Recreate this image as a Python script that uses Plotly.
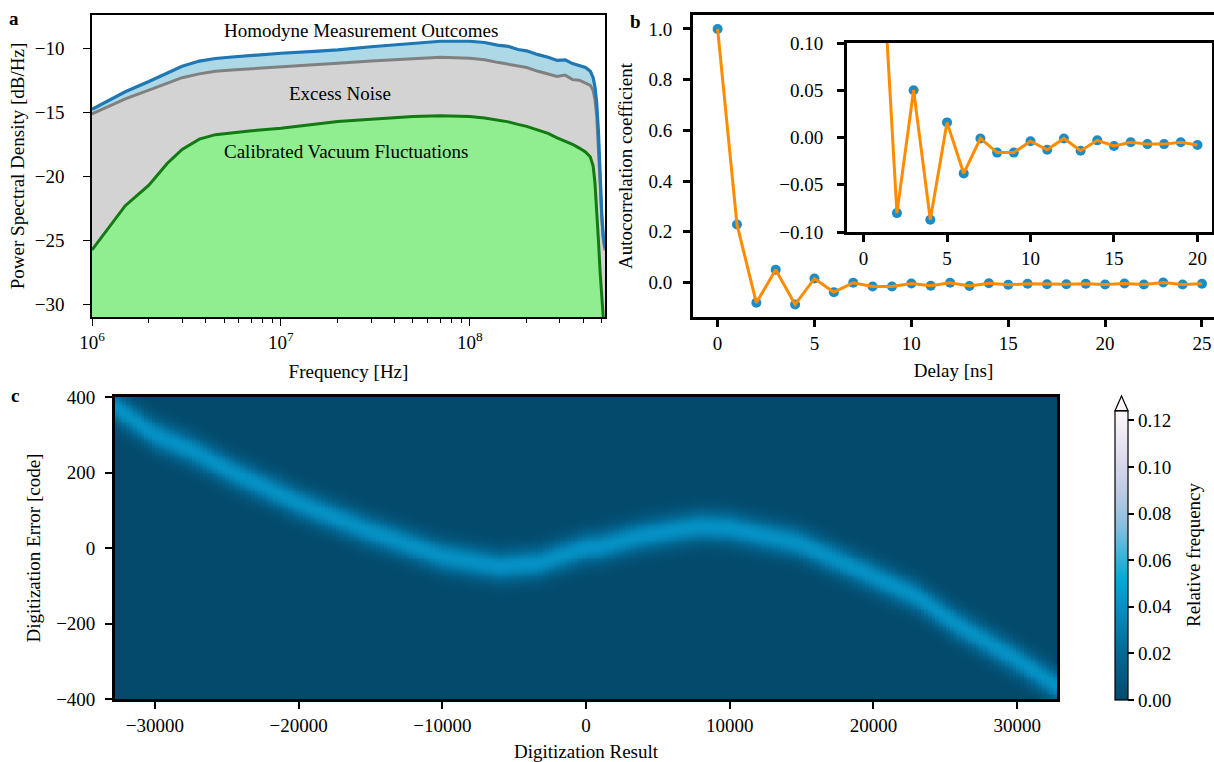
import numpy as np
import plotly.graph_objects as go

# ---------------- Panel a: power spectral density ----------------
freq_hz = [1.0e6, 1.5e6, 2.0e6, 2.5e6, 3.0e6, 3.7e6, 4.5e6, 5.5e6, 7.0e6, 1.0e7,
           1.5e7, 2.0e7, 3.0e7, 5.0e7, 7.0e7, 1.0e8, 1.2e8, 1.4e8, 1.6e8, 1.8e8,
           2.0e8, 2.3e8, 2.6e8, 2.9e8, 3.2e8, 3.5e8, 3.8e8, 4.1e8, 4.35e8, 4.5e8,
           4.6e8, 4.7e8, 4.8e8, 4.9e8, 5.0e8, 5.1e8, 5.2e8]
psd_homodyne = [-14.77, -13.4, -12.6, -11.95, -11.4, -11.0, -10.8, -10.68, -10.55, -10.39,
                -10.25, -10.13, -9.88, -9.61, -9.45, -9.45, -9.55, -9.75, -9.85, -10.1,
                -10.2, -10.5, -10.7, -10.95, -10.9, -11.2, -11.35, -11.5, -11.8, -12.3,
                -13.0, -14.3, -16.5, -20.0, -23.0, -24.8, -25.6]
psd_excess = [-15.13, -13.95, -13.27, -12.73, -12.3, -12.0, -11.8, -11.7, -11.6, -11.51,
              -11.3, -11.17, -10.99, -10.81, -10.70, -10.78, -10.9, -11.1, -11.25, -11.4,
              -11.5, -11.8, -12.0, -12.2, -12.1, -12.45, -12.5, -12.7, -12.9, -13.3,
              -14.0, -15.3, -17.5, -20.5, -23.3, -25.0, -25.8]
psd_vacuum = [-25.76, -22.3, -20.7, -19.0, -17.9, -17.1, -16.75, -16.6, -16.45, -16.25,
              -15.95, -15.73, -15.55, -15.34, -15.27, -15.34, -15.45, -15.6, -15.75, -15.95,
              -16.1, -16.4, -16.65, -17.0, -17.25, -17.5, -17.8, -18.1, -18.5, -19.2,
              -20.5, -22.5, -25.0, -27.5, -29.5, -31.5, -33.0]
psd_labels = ["Homodyne Measurement Outcomes", "Excess Noise", "Calibrated Vacuum Fluctuations"]

# ---------------- Panel b: autocorrelation ----------------
delay_ns = list(range(26))
autocorr = [1.0, 0.229, -0.080, 0.050, -0.087, 0.016, -0.038, -0.001, -0.016, -0.016,
            -0.004, -0.013, -0.001, -0.014, -0.003, -0.009, -0.005, -0.007, -0.007, -0.005,
            -0.008, -0.004, -0.008, 0.000, -0.008, -0.005]
inset_max_delay = 20

# ---------------- Panel c: digitization error histogram ----------------
ridge_result = [-32768, -32500, -30000, -27300, -24700, -20000, -15300, -10000, -6000, -3300,
                0, 1000, 3750, 6500, 8000, 10000, 14800, 20000, 23000, 25700, 30000, 32767]
ridge_error = [375, 366, 300, 256, 203, 119, 48, -22, -49, -40,
               0, 4, 31, 49, 57, 53, 13, -75, -128, -199, -296, -365]
band_sigma = 29.0
band_peak = 0.040
cbar_ticks = [0.00, 0.02, 0.04, 0.06, 0.08, 0.10, 0.12]

# 2D histogram grid built from the ridge (one extra bin past each edge)
xc = np.arange(-32768 - 128, 32768 + 256, 256)
yc = np.arange(-402.5, 405, 5)
centers = np.interp(xc, ridge_result, ridge_error)
z = band_peak * np.exp(-0.5 * ((yc[:, None] - centers[None, :]) / band_sigma) ** 2)

W, H = 1214, 762
def px_x(p):
    return p / W
def px_y(p):
    return 1 - p / H

FONT = "Liberation Serif"
FS = 19
BG0 = "#034a6c"
fig = go.Figure()

# panel a traces
base = [-40.0] * len(freq_hz)
fig.add_trace(go.Scatter(x=freq_hz, y=base, mode="lines", line=dict(width=0),
                         hoverinfo="skip", xaxis="x", yaxis="y"))
fig.add_trace(go.Scatter(x=freq_hz, y=psd_vacuum, mode="lines",
                         line=dict(color="#117a11", width=3),
                         fill="tonexty", fillcolor="#90ee90", xaxis="x", yaxis="y"))
fig.add_trace(go.Scatter(x=freq_hz, y=psd_excess, mode="lines",
                         line=dict(color="#808080", width=3),
                         fill="tonexty", fillcolor="#d3d3d3", xaxis="x", yaxis="y"))
fig.add_trace(go.Scatter(x=freq_hz, y=psd_homodyne, mode="lines",
                         line=dict(color="#1f77b4", width=3.2),
                         fill="tonexty", fillcolor="#add8e6", xaxis="x", yaxis="y"))

# panel b traces
MK = "#1c8cc6"
OR = "#ff8c00"
fig.add_trace(go.Scatter(x=delay_ns, y=autocorr, mode="markers",
                         marker=dict(color=MK, size=10), xaxis="x2", yaxis="y2"))
fig.add_trace(go.Scatter(x=delay_ns, y=autocorr, mode="lines",
                         line=dict(color=OR, width=3), xaxis="x2", yaxis="y2"))
fig.add_trace(go.Scatter(x=delay_ns[:inset_max_delay + 1], y=autocorr[:inset_max_delay + 1],
                         mode="markers", marker=dict(color=MK, size=10), xaxis="x3", yaxis="y3"))
fig.add_trace(go.Scatter(x=delay_ns[:inset_max_delay + 1], y=autocorr[:inset_max_delay + 1],
                         mode="lines", line=dict(color=OR, width=3), xaxis="x3", yaxis="y3"))

# panel c heatmap
cscale = [[0.0, BG0], [0.16, "#036894"], [0.32, "#0590c4"], [0.42, "#00acd6"],
          [0.5, "#3cb4d8"], [0.6, "#86bedd"], [0.7, "#b5c9e2"], [0.82, "#d9d8eb"],
          [1.0, "#fff7fb"]]
fig.add_trace(go.Heatmap(
    x=xc, y=yc, z=z, zmin=0, zmax=0.124, colorscale=cscale, xaxis="x4", yaxis="y4",
    colorbar=dict(x=px_x(1115), xanchor="left", xpad=0, y=px_y(700), yanchor="bottom",
                  ypad=0, len=289.3 / H, lenmode="fraction", thickness=13,
                  thicknessmode="pixels", outlinewidth=1.2, outlinecolor="black",
                  tickvals=cbar_ticks, ticktext=[f"{v:.2f}" for v in cbar_ticks],
                  ticks="outside", ticklen=6, tickwidth=1.5, tickcolor="black",
                  tickfont=dict(size=FS, family=FONT, color="black"))))

def ax(lw, **kw):
    d = dict(showline=True, linecolor="black", linewidth=lw, ticks="outside",
             ticklen=7, tickwidth=lw * 0.9, tickcolor="black", showgrid=False,
             zeroline=False, automargin=False,
             tickfont=dict(size=FS, family=FONT, color="black"))
    d.update(kw)
    return d

def ttl(text, standoff):
    return dict(text=text, standoff=standoff, font=dict(size=FS, family=FONT, color="black"))

def mlab(vals, fmt):
    return [(fmt.format(v)).replace("-", "\u2212") for v in vals]

minor_a = [k * 10 ** e for e in (6, 7) for k in range(2, 10)] + [2e8, 3e8, 4e8, 5e8]
a_yt = [-30, -25, -20, -15, -10]
b_yt = [0.0, 0.2, 0.4, 0.6, 0.8, 1.0]
b_xt = [0, 5, 10, 15, 20, 25]
i_xt = [0, 5, 10, 15, 20]
i_yt = [-0.10, -0.05, 0.0, 0.05, 0.10]
c_xt = [-30000, -20000, -10000, 0, 10000, 20000, 30000]
c_yt = [-400, -200, 0, 200, 400]

fig.update_layout(
    width=W, height=H, margin=dict(l=0, r=0, t=0, b=0, autoexpand=False),
    paper_bgcolor="white", plot_bgcolor="white", showlegend=False,
    font=dict(family=FONT, size=FS, color="black"),
    xaxis=ax(1.6, type="log", domain=[px_x(92), px_x(605)], range=[6, 8.716],
             anchor="y", mirror=True, tickvals=[1e6, 1e7, 1e8],
             ticktext=["10<sup>6</sup>", "10<sup>7</sup>", "10<sup>8</sup>"],
             minor=dict(tickvals=minor_a, ticks="outside", ticklen=4, tickwidth=1,
                        tickcolor="black", showgrid=False),
             title=ttl("Frequency [Hz]", 13)),
    yaxis=ax(1.6, domain=[px_y(317), px_y(15)], range=[-31.0, -7.4], anchor="x",
             mirror=True, tickvals=a_yt, ticktext=mlab(a_yt, "{:d}"),
             ticklabelstandoff=15,
             title=ttl("Power Spectral Density [dB/Hz]", 5)),
    xaxis2=ax(3, domain=[px_x(693), 1.0], range=[-1.27, 25.62], anchor="y2",
              mirror=True, tickvals=b_xt, ticktext=[str(v) for v in b_xt],
              title=ttl("Delay [ns]", 11)),
    yaxis2=ax(3, domain=[px_y(317), px_y(15)], range=[-0.136, 1.055], anchor="x2",
              mirror=False, tickvals=b_yt, ticktext=mlab(b_yt, "{:.1f}"),
              ticklabelstandoff=7,
              title=ttl("Autocorrelation coefficient", 11)),
    xaxis3=ax(3, domain=[px_x(847), px_x(1212)], range=[-0.99, 20.87], anchor="y3",
              mirror=True, tickvals=i_xt, ticktext=[str(v) for v in i_xt]),
    yaxis3=ax(3, domain=[px_y(232), px_y(43)], range=[-0.1, 0.1], anchor="x3",
              mirror=True, tickvals=i_yt, ticktext=mlab(i_yt, "{:.2f}"),
              ticklabelstandoff=10),
    xaxis4=ax(2.7, domain=[px_x(115), px_x(1057)], range=[-32768, 32767], anchor="y4",
              mirror=True, tickvals=c_xt, ticktext=mlab(c_xt, "{:d}"),
              title=ttl("Digitization Result", 11)),
    yaxis4=ax(2.7, domain=[px_y(699), px_y(397)], range=[-400, 400], anchor="x4",
              mirror=True, tickvals=c_yt, ticktext=mlab(c_yt, "{:d}"),
              ticklabelstandoff=6,
              title=ttl("Digitization Error [code]", 11)),
)

# dark backdrop under the heatmap so no white seam shows at its edges
fig.add_shape(type="rect", xref="x4", yref="y4", x0=-32768, x1=32767, y0=-400, y1=400,
              fillcolor=BG0, line=dict(width=0), layer="below")

annos = [
    dict(text=psd_labels[0], x=px_x(361), y=px_y(30)),
    dict(text=psd_labels[1], x=px_x(340), y=px_y(93)),
    dict(text=psd_labels[2], x=px_x(346), y=px_y(151)),
    dict(text="<b>a</b>", x=px_x(14), y=px_y(19)),
    dict(text="<b>b</b>", x=px_x(635), y=px_y(22)),
    dict(text="<b>c</b>", x=px_x(15), y=px_y(395)),
    dict(text="Relative frequency", x=px_x(1193), y=px_y(555), textangle=-90),
]
for a in annos:
    fig.add_annotation(xref="paper", yref="paper", showarrow=False, xanchor="center",
                       yanchor="middle", font=dict(size=FS, family=FONT, color="black"), **a)

# colorbar "extend" arrow at the top
xl, xr_, yb, yt = px_x(1115), px_x(1128), px_y(410.7), px_y(396)
fig.add_shape(type="path", xref="paper", yref="paper",
              path=f"M {xl},{yb} L {(xl + xr_) / 2},{yt} L {xr_},{yb} Z",
              fillcolor="#fff7fb", line=dict(color="black", width=1.2))

fig.write_html("out.html", config={"displayModeBar": False},
               post_script=["document.body.style.margin='0px';document.body.style.padding='0px';"])
